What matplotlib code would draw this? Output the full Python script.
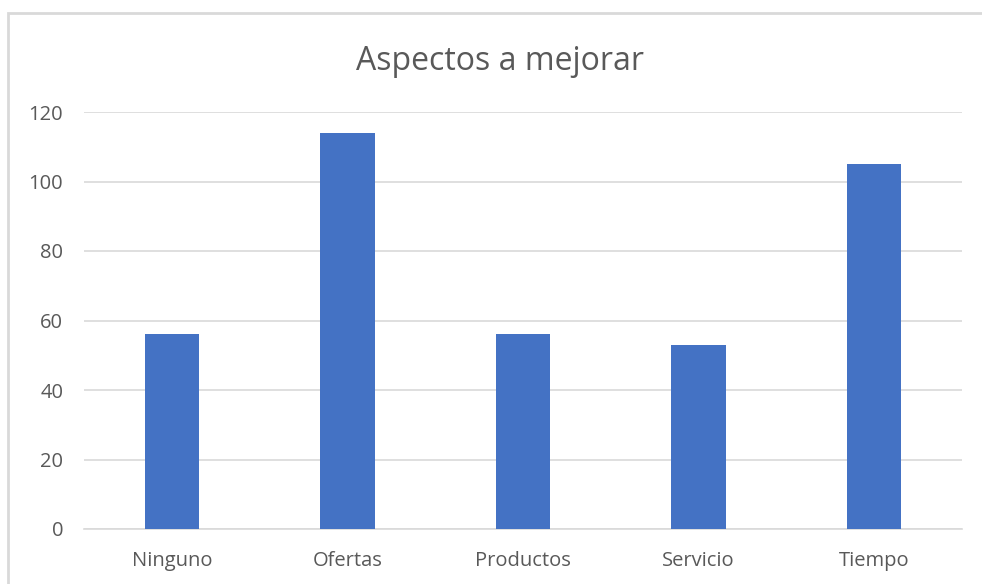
import matplotlib.pyplot as plt
from matplotlib.patches import Rectangle

categories = ["Ninguno", "Ofertas", "Productos", "Servicio", "Tiempo"]
values = [56, 114, 56, 53, 105]
yticks = [0, 20, 40, 60, 80, 100, 120]

plt.rcParams['font.family'] = ['Open Sans', 'DejaVu Sans']

W, H = 982, 584
fig = plt.figure(figsize=(W / 100, H / 100), dpi=100)

# chart border (light gray frame, clipped by image edges)
fig.patches.append(Rectangle((8 / W, -0.1), 1.2, 1 - 13 / H + 0.1,
                             transform=fig.transFigure, fill=False,
                             edgecolor='#d9d9d9', linewidth=2))

ax = fig.add_axes([84 / W, 1 - 529 / H, (962 - 84) / W, (529 - 112) / H])
x = range(len(categories))
ax.bar(x, values, width=0.31, color='#4472C4', zorder=3)

ax.set_xlim(-0.5, len(categories) - 0.5)
ax.set_ylim(0, 120)
ax.set_yticks(yticks)
ax.set_xticks(list(x))
ax.set_xticklabels(categories)
ax.grid(axis='y', color='#d9d9d9', linewidth=1.2, zorder=0)
for s in ['top', 'right', 'left']:
    ax.spines[s].set_visible(False)
ax.spines['bottom'].set_color('#d9d9d9')
ax.spines['bottom'].set_linewidth(1.2)
ax.tick_params(length=0, colors='#595959', labelsize=14.5)
ax.tick_params(axis='y', pad=15)
ax.tick_params(axis='x', pad=15.5)

fig.text(500 / W, 1 - 62 / H, "Aspectos a mejorar", ha='center', va='center',
         fontsize=23, color='#595959')

fig.savefig('out.png', dpi=100)
